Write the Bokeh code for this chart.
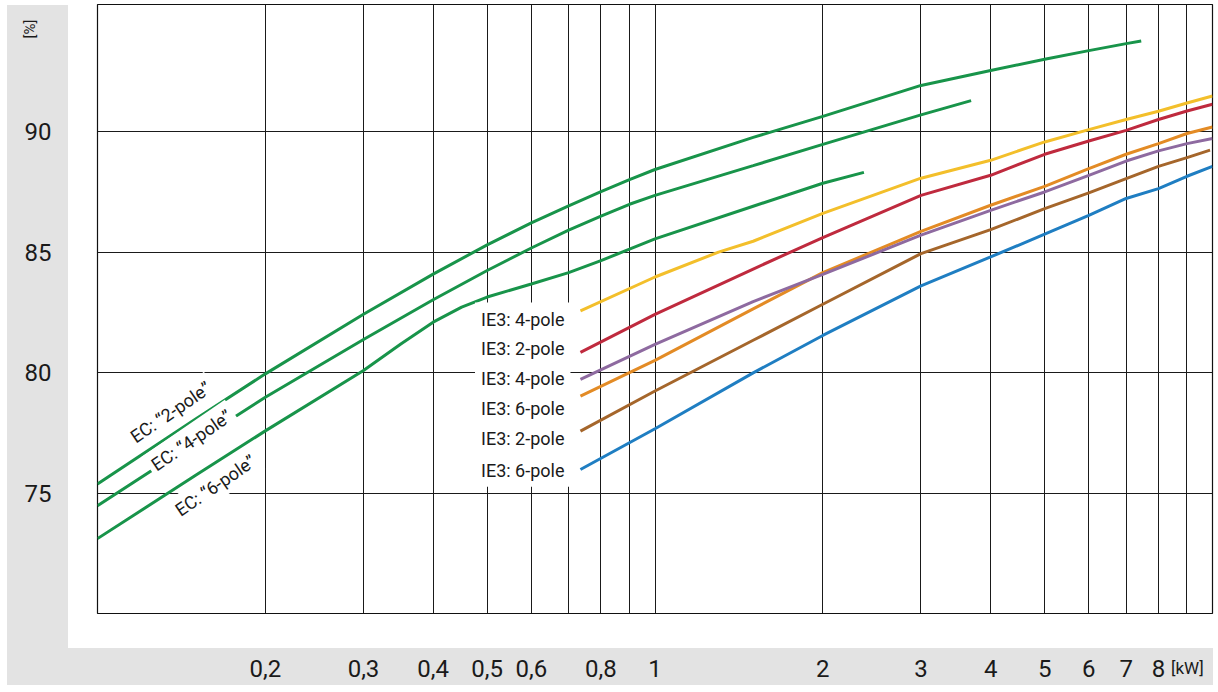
from bokeh.plotting import figure
from bokeh.models import Range1d, FixedTicker, CustomJSTickFormatter, Label, Div
from bokeh.embed import file_html
from bokeh.resources import INLINE

# ---------------- data ----------------
ec2_x = [0.1, 0.15, 0.2, 0.3, 0.4, 0.5, 0.6, 0.7, 0.8, 0.9, 1, 1.5, 2, 3, 4, 5, 6, 7, 7.45]
ec2_y = [75.4, 78.09, 79.96, 82.43, 84.09, 85.3, 86.21, 86.91, 87.5, 88.0, 88.42, 89.75, 90.62, 91.9, 92.52, 92.98, 93.34, 93.63, 93.74]
ec4_x = [0.1, 0.15, 0.2, 0.3, 0.4, 0.5, 0.6, 0.7, 0.8, 0.9, 1, 1.5, 2, 3, 3.69]
ec4_y = [74.5, 77.14, 78.99, 81.38, 83.03, 84.24, 85.17, 85.91, 86.49, 86.98, 87.35, 88.58, 89.46, 90.68, 91.27]
ec6_x = [0.1, 0.15, 0.2, 0.3, 0.35, 0.4, 0.45, 0.5, 0.6, 0.7, 0.8, 0.9, 1, 1.5, 2, 2.37]
ec6_y = [73.14, 75.76, 77.6, 80.1, 81.2, 82.1, 82.72, 83.14, 83.68, 84.15, 84.65, 85.12, 85.55, 86.9, 87.85, 88.3]

ie4a_x = [0.735, 1, 1.3, 1.5, 2, 3, 4, 5, 6, 7, 8, 9, 10]
ie4a_y = [82.57, 83.97, 85.0, 85.45, 86.6, 88.06, 88.8, 89.56, 90.07, 90.49, 90.83, 91.17, 91.46]
ie2a_x = [0.735, 1, 1.5, 1.75, 2, 3, 4, 5, 6, 7, 8, 9, 10]
ie2a_y = [80.85, 82.42, 84.3, 85.0, 85.6, 87.35, 88.18, 89.05, 89.6, 90.04, 90.49, 90.84, 91.12]
ie4b_x = [0.735, 1, 1.5, 2, 3, 4, 5, 6, 7, 8, 9, 10]
ie4b_y = [79.73, 81.18, 82.95, 84.08, 85.7, 86.73, 87.49, 88.18, 88.77, 89.19, 89.49, 89.7]
ie6a_x = [0.735, 1, 1.5, 2, 3, 4, 5, 6, 7, 8, 9, 10]
ie6a_y = [79.04, 80.52, 82.65, 84.15, 85.86, 86.94, 87.72, 88.46, 89.05, 89.49, 89.91, 90.18]
ie2b_x = [0.735, 1, 1.5, 2, 3, 4, 5, 6, 7, 8, 9, 9.9]
ie2b_y = [77.59, 79.25, 81.35, 82.84, 84.94, 85.93, 86.8, 87.45, 88.04, 88.55, 88.91, 89.22]
ie6b_x = [0.735, 1, 1.5, 2, 3, 4, 5, 6, 7, 8, 9, 10]
ie6b_y = [76.0, 77.69, 80.0, 81.55, 83.6, 84.8, 85.74, 86.52, 87.22, 87.63, 88.14, 88.55]

x_ticks = [0.2, 0.3, 0.4, 0.5, 0.6, 0.8, 1, 2, 3, 4, 5, 6, 7, 8]
x_grid = [0.2, 0.3, 0.4, 0.5, 0.6, 0.7, 0.8, 0.9, 1, 2, 3, 4, 5, 6, 7, 8, 9]
y_ticks = [75, 80, 85, 90]
x_unit = "[kW]"
y_unit = "[%]"

ec_labels = ['EC: \u201c2-pole\u201d', 'EC: \u201c4-pole\u201d', 'EC: \u201c6-pole\u201d']
ec_label_x = [0.1352, 0.1474, 0.1628]
ec_label_y = [78.37, 77.21, 75.34]

ie_labels = ['IE3: 4-pole', 'IE3: 2-pole', 'IE3: 4-pole', 'IE3: 6-pole', 'IE3: 2-pole', 'IE3: 6-pole']
ie_label_y = [82.23, 81.02, 79.78, 78.54, 77.29, 75.97]

GREEN = "#18944a"
ie_series = [
    (ie6b_x, ie6b_y, "#1f7ec2"),
    (ie2b_x, ie2b_y, "#a5662b"),
    (ie6a_x, ie6a_y, "#e38b25"),
    (ie4b_x, ie4b_y, "#8e6aa0"),
    (ie2a_x, ie2a_y, "#bf2a3e"),
    (ie4a_x, ie4a_y, "#f3bf2b"),
]

FONT = "Roboto"
GREY = "#e3e3e3"
TXT = "#1a1a1a"
X_RANGE = (0.1, 10)
Y_RANGE = (70.04, 95.25)
EM = "\u2003"

p = figure(width=1218, height=692, x_axis_type="log",
           x_range=Range1d(*X_RANGE), y_range=Range1d(*Y_RANGE),
           output_backend="svg", toolbar_location=None,
           min_border_left=97, min_border_right=6, min_border_top=4, min_border_bottom=79,
           background_fill_color="white", border_fill_color=None)

# grey L-shaped band behind the axis labels (page styling)
p.styles = {
    "position": "relative",
    "background-color": "white",
    "background-image": f"linear-gradient({GREY}, {GREY}), linear-gradient({GREY}, {GREY})",
    "background-size": "61px 680px, 1206px 37px",
    "background-position": "7px 5px, 7px 648px",
    "background-repeat": "no-repeat",
}

p.outline_line_color = "#111111"
p.outline_line_width = 1.2

p.xgrid.ticker = FixedTicker(ticks=x_grid)
p.ygrid.ticker = FixedTicker(ticks=y_ticks)
p.xgrid.bounds = X_RANGE
p.ygrid.bounds = Y_RANGE
for g in (p.xgrid, p.ygrid):
    g.grid_line_color = "#1a1a1a"
    g.grid_line_width = 1
    g.grid_line_alpha = 1

xa = p.xaxis[0]
xa.ticker = FixedTicker(ticks=x_ticks)
xa.formatter = CustomJSTickFormatter(code="return tick < 1 ? tick.toFixed(1).replace('.', ',') : tick.toFixed(0);")
ya = p.yaxis[0]
ya.ticker = FixedTicker(ticks=y_ticks)
for ax in (xa, ya):
    ax.axis_line_color = None
    ax.major_tick_line_color = None
    ax.minor_tick_line_color = None
    ax.major_label_text_font = FONT
    ax.major_label_text_font_size = "24px"
    ax.major_label_text_color = TXT
    ax.axis_label_text_font = FONT
    ax.axis_label_text_font_style = "normal"
    ax.axis_label_text_color = TXT
xa.major_label_standoff = 40
ya.major_label_standoff = 40

# unit labels: small absolutely-positioned text elements in the grey band
base_css = {"position": "absolute", "margin": "0", "padding": "0",
            "font-family": FONT, "color": TXT, "line-height": "1",
            "white-space": "nowrap"}
kw_div = Div(text=x_unit, styles=dict(base_css, **{"left": "1171px", "top": "660px", "font-size": "17px"}))
pc_div = Div(text=y_unit, styles=dict(base_css, **{"left": "30px", "top": "29px", "font-size": "15px",
                                                   "transform": "translate(-50%, -50%) rotate(-90deg)"}))
try:
    p.elements = [kw_div, pc_div]
except Exception:
    # fallback: axis titles at the far end of each axis
    xa.axis_label = x_unit + EM * 3
    xa.axis_label_text_font_size = "16px"
    xa.axis_label_standoff = -20
    ya.axis_label = y_unit + EM * 3
    ya.axis_label_text_font_size = "15px"
    ya.axis_label_standoff = -22
    for ax in (xa, ya):
        try:
            ax.axis_label_align = "end"
        except Exception:
            pass

# curves
for xs, ys in ((ec2_x, ec2_y), (ec4_x, ec4_y), (ec6_x, ec6_y)):
    p.line(xs, ys, line_color=GREEN, line_width=3)
for xs, ys, c in ie_series:
    p.line(xs, ys, line_color=c, line_width=3)

# EC labels (rotated)
for t, lx, ly in zip(ec_labels, ec_label_x, ec_label_y):
    p.add_layout(Label(x=lx, y=ly, text=t, angle=0.6, angle_units="rad",
                       text_align="center", text_baseline="middle",
                       text_font=FONT, text_font_size="18px", text_color=TXT,
                       background_fill_color="white", padding=4))

# IE3 labels
for t, ly in zip(ie_labels, ie_label_y):
    p.add_layout(Label(x=ie4a_x[0], y=ly, x_offset=-10, text=t,
                       text_align="right", text_baseline="middle",
                       text_font=FONT, text_font_size="18px", text_color=TXT,
                       background_fill_color="white", padding=6))

open("out.html", "w").write(file_html(p, INLINE))
